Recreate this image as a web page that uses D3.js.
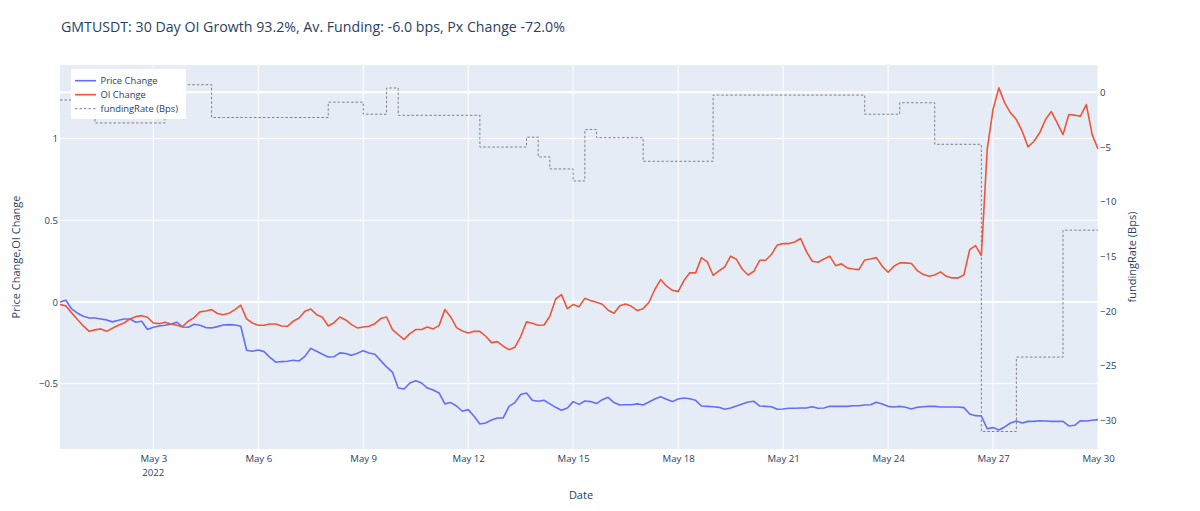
<!DOCTYPE html>
<html>
<head>
<meta charset="utf-8">
<script src="https://cdn.jsdelivr.net/npm/d3@7"></script>
<style>
body { margin: 0; background: #fff; }
text { font-family: "Open Sans", verdana, arial, sans-serif; fill: #2a3f5f; }
</style>
</head>
<body>
<div id="chart"></div>
<script>
var titleText = "GMTUSDT: 30 Day OI Growth 93.2%, Av. Funding: -6.0 bps, Px Change -72.0%";
var startTime = "2022-04-30T08:00:00Z";
var endTime = "2022-05-30T00:00:00Z";
var stepHours = 4;      // price / OI sampling
var fundingHours = 8;   // one funding value per 8h period

var priceChange = [
    0.000, 0.010, -0.043, -0.069, -0.088, -0.098, -0.098, -0.104, -0.110, -0.122,
    -0.112, -0.104, -0.104, -0.124, -0.118, -0.169, -0.155, -0.147, -0.143, -0.137,
    -0.124, -0.153, -0.155, -0.137, -0.143, -0.157, -0.159, -0.151, -0.141, -0.139,
    -0.141, -0.149, -0.296, -0.302, -0.294, -0.304, -0.339, -0.369, -0.365, -0.363,
    -0.357, -0.361, -0.333, -0.284, -0.302,
    -0.320, -0.337, -0.335, -0.312, -0.316, -0.327, -0.314, -0.298, -0.312, -0.320,
    -0.359, -0.398, -0.429, -0.527, -0.533, -0.496, -0.482, -0.496, -0.527, -0.539,
    -0.557, -0.624, -0.616, -0.637, -0.669, -0.659, -0.700, -0.747, -0.741, -0.722,
    -0.710, -0.710, -0.639, -0.616, -0.567, -0.557, -0.602, -0.608, -0.602, -0.624,
    -0.645, -0.663, -0.649, -0.610, -0.627,
    -0.606, -0.610, -0.622, -0.598, -0.584, -0.616, -0.631, -0.629, -0.629, -0.624,
    -0.631, -0.612, -0.594, -0.580, -0.596, -0.610, -0.594, -0.588, -0.592, -0.602,
    -0.637, -0.639, -0.641, -0.645, -0.657, -0.649, -0.637, -0.624, -0.612, -0.608,
    -0.637, -0.639, -0.641, -0.657, -0.655, -0.651, -0.651, -0.649, -0.649, -0.641,
    -0.651, -0.649, -0.639, -0.639,
    -0.639, -0.639, -0.635, -0.635, -0.631, -0.629, -0.614, -0.624, -0.639, -0.643,
    -0.639, -0.645, -0.655, -0.645, -0.641, -0.639, -0.639, -0.643, -0.643, -0.643,
    -0.643, -0.647, -0.686, -0.696, -0.698, -0.776, -0.769, -0.784, -0.765, -0.741,
    -0.729, -0.741, -0.731, -0.731, -0.727, -0.729, -0.731, -0.731, -0.731, -0.759,
    -0.755, -0.727, -0.729, -0.724, -0.720
];

var oiChange = [
    -0.016, -0.024, -0.067, -0.108, -0.147, -0.180, -0.171, -0.165, -0.180, -0.161,
    -0.143, -0.129, -0.104, -0.090, -0.084, -0.094, -0.129, -0.133, -0.124, -0.135,
    -0.143, -0.151, -0.118, -0.096, -0.061, -0.055, -0.047, -0.071, -0.078, -0.069,
    -0.047, -0.020, -0.104, -0.129, -0.143, -0.143, -0.135, -0.135, -0.147, -0.149,
    -0.118, -0.098, -0.057, -0.043, -0.078,
    -0.094, -0.147, -0.127, -0.092, -0.110, -0.139, -0.159, -0.153, -0.149, -0.133,
    -0.102, -0.092, -0.169, -0.200, -0.229, -0.194, -0.169, -0.169, -0.153, -0.165,
    -0.145, -0.047, -0.092, -0.157, -0.178, -0.190, -0.180, -0.180, -0.210, -0.249,
    -0.243, -0.271, -0.292, -0.278, -0.212, -0.122, -0.131, -0.143, -0.141, -0.088,
    0.018, 0.045, -0.041, -0.016, -0.029,
    0.022, 0.008, -0.002, -0.014, -0.051, -0.069, -0.024, -0.012, -0.027, -0.053,
    -0.041, -0.002, 0.076, 0.137, 0.098, 0.071, 0.063, 0.131, 0.178, 0.178,
    0.271, 0.245, 0.163, 0.190, 0.214, 0.280, 0.261, 0.200, 0.165, 0.188,
    0.255, 0.255, 0.290, 0.349, 0.357, 0.357, 0.367, 0.388, 0.308, 0.249,
    0.243, 0.263, 0.280, 0.222,
    0.233, 0.208, 0.202, 0.198, 0.257, 0.263, 0.271, 0.218, 0.182, 0.218,
    0.239, 0.239, 0.235, 0.192, 0.169, 0.157, 0.165, 0.184, 0.157, 0.147,
    0.147, 0.165, 0.320, 0.345, 0.284, 0.933, 1.178, 1.310, 1.218, 1.157,
    1.116, 1.045, 0.949, 0.982, 1.035, 1.116, 1.165, 1.096, 1.024, 1.147,
    1.143, 1.137, 1.208, 1.024, 0.937
];

var fundingRate = [
    -0.7, -0.7, -0.7,
    -2.8, -2.8, -2.8, -2.8, -2.8, -2.8,
    0.7, 0.7, 0.7, 0.7,
    -2.3, -2.3, -2.3, -2.3, -2.3, -2.3, -2.3, -2.3, -2.3, -2.3,
    -0.9, -0.9, -0.9,
    -2.0, -2.0,
    0.4,
    -2.1, -2.1, -2.1, -2.1, -2.1, -2.1, -2.1,
    -5.0, -5.0, -5.0, -5.0,
    -4.1,
    -5.9,
    -7.0, -7.0,
    -8.1,
    -3.4,
    -4.15, -4.15, -4.15, -4.15,
    -6.3, -6.3, -6.3, -6.3, -6.3, -6.3,
    -0.25, -0.25, -0.25, -0.25, -0.25, -0.25, -0.25, -0.25, -0.25, -0.25, -0.25, -0.25, -0.25,
    -2.0, -2.0, -2.0,
    -0.95, -0.95, -0.95,
    -4.75, -4.75, -4.75, -4.75,
    -31.0, -31.0, -31.0,
    -24.2, -24.2, -24.2, -24.2,
    -12.6, -12.6, -12.6
];

var xTickDates = ["2022-05-03", "2022-05-06", "2022-05-09", "2022-05-12", "2022-05-15",
    "2022-05-18", "2022-05-21", "2022-05-24", "2022-05-27", "2022-05-30"];
var xTickLabels = ["May 3", "May 6", "May 9", "May 12", "May 15",
    "May 18", "May 21", "May 24", "May 27", "May 30"];
var xYearLabel = "2022";
var yTicks = [-0.5, 0, 0.5, 1];
var y2Ticks = [0, -5, -10, -15, -20, -25, -30];
var seriesNames = ["Price Change", "OI Change", "fundingRate (Bps)"];
var seriesColors = ["#636efa", "#EF553B", "grey"];

function drawChart() {
    var width = 1200, height = 511;
    var plot = {left: 60, right: 1098, top: 65, bottom: 449};
    var t0 = new Date(startTime);
    var hour = 3600 * 1000;

    var svg = d3.select("#chart")
        .append("svg")
        .attr("width", width)
        .attr("height", height);

    var x = d3.scaleUtc()
        .domain([t0, new Date(endTime)])
        .range([plot.left, plot.right]);
    var y = d3.scaleLinear()
        .domain([-0.9, 1.45])
        .range([plot.bottom, plot.top]);
    var y2 = d3.scaleLinear()
        .domain([-32.6, 2.5])
        .range([plot.bottom, plot.top]);

    svg.append("rect")
        .attr("x", plot.left)
        .attr("y", plot.top)
        .attr("width", plot.right - plot.left)
        .attr("height", plot.bottom - plot.top)
        .attr("fill", "#E5ECF6");

    var tickDates = xTickDates.map(function(d) { return new Date(d + "T00:00:00Z"); });

    var grid = svg.append("g").attr("stroke", "#fff");
    grid.selectAll(".vgrid")
        .data(tickDates)
        .enter().append("line")
        .attr("x1", function(d) { return x(d); })
        .attr("x2", function(d) { return x(d); })
        .attr("y1", plot.top)
        .attr("y2", plot.bottom)
        .attr("stroke-width", 1);
    grid.selectAll(".hgrid")
        .data(yTicks)
        .enter().append("line")
        .attr("x1", plot.left)
        .attr("x2", plot.right)
        .attr("y1", function(d) { return y(d); })
        .attr("y2", function(d) { return y(d); })
        .attr("stroke-width", function(d) { return d === 0 ? 2 : 1; });
    // zero line of the funding axis
    grid.append("line")
        .attr("x1", plot.left)
        .attr("x2", plot.right)
        .attr("y1", y2(0))
        .attr("y2", y2(0))
        .attr("stroke-width", 2);

    var line = d3.line()
        .x(function(d) { return x(d.t); })
        .y(function(d) { return y(d.v); });
    var fundLine = d3.line()
        .curve(d3.curveStepAfter)
        .x(function(d) { return x(d.t); })
        .y(function(d) { return y2(d.v); });

    function toPoints(values, step) {
        return values.map(function(v, i) {
            return {t: new Date(t0.getTime() + i * step * hour), v: v};
        });
    }

    var pricePts = toPoints(priceChange, stepHours);
    var oiPts = toPoints(oiChange, stepHours);
    var fundPts = toPoints(fundingRate, fundingHours);
    fundPts.push({t: new Date(endTime), v: fundingRate[fundingRate.length - 1]});

    var lines = svg.append("g")
        .attr("fill", "none")
        .attr("stroke-linejoin", "round");
    lines.append("path")
        .datum(pricePts)
        .attr("d", line)
        .attr("stroke", seriesColors[0])
        .attr("stroke-width", 1.6);
    lines.append("path")
        .datum(oiPts)
        .attr("d", line)
        .attr("stroke", seriesColors[1])
        .attr("stroke-width", 1.6);
    lines.append("path")
        .datum(fundPts)
        .attr("d", fundLine)
        .attr("stroke", seriesColors[2])
        .attr("stroke-width", 1)
        .attr("stroke-dasharray", "2.5,2");

    var fmt = d3.format("~g");

    var xAxis = svg.append("g")
        .attr("transform", "translate(0," + plot.bottom + ")")
        .call(d3.axisBottom(x)
            .tickValues(tickDates)
            .tickSize(0)
            .tickPadding(6)
            .tickFormat(function(d, i) { return xTickLabels[i]; }));
    xAxis.append("text")
        .attr("x", x(tickDates[0]))
        .attr("y", 27)
        .attr("text-anchor", "middle")
        .text(xYearLabel);

    var yAxis = svg.append("g")
        .attr("transform", "translate(" + plot.left + ",0)")
        .call(d3.axisLeft(y)
            .tickValues(yTicks)
            .tickSize(0)
            .tickPadding(2)
            .tickFormat(fmt));

    var y2Axis = svg.append("g")
        .attr("transform", "translate(" + plot.right + ",0)")
        .call(d3.axisRight(y2)
            .tickValues(y2Ticks)
            .tickSize(0)
            .tickPadding(2)
            .tickFormat(fmt));

    [xAxis, yAxis, y2Axis].forEach(function(a) {
        a.select(".domain").remove();
        a.selectAll("text")
            .attr("fill", "#2a3f5f")
            .style("font-family", "\"Open Sans\", verdana, arial, sans-serif")
            .style("font-size", "9.6px");
    });

    svg.append("text")
        .attr("x", 61)
        .attr("y", 32)
        .style("font-size", "14.2px")
        .text(titleText);

    svg.append("text")
        .attr("x", (plot.left + plot.right) / 2 + 2)
        .attr("y", 499)
        .attr("text-anchor", "middle")
        .style("font-size", "11px")
        .text("Date");

    svg.append("text")
        .attr("transform", "translate(20," + (plot.top + plot.bottom) / 2 + ") rotate(-90)")
        .attr("text-anchor", "middle")
        .style("font-size", "11px")
        .text("Price Change,OI Change");

    svg.append("text")
        .attr("transform", "translate(1136," + (plot.top + plot.bottom) / 2 + ") rotate(-90)")
        .attr("text-anchor", "middle")
        .style("font-size", "11px")
        .text(seriesNames[2]);

    var legend = svg.append("g")
        .attr("transform", "translate(71,69)");
    legend.append("rect")
        .attr("width", 115)
        .attr("height", 50)
        .attr("fill", "#fff");
    var item = legend.selectAll(".item")
        .data(seriesNames)
        .enter().append("g")
        .attr("transform", function(d, i) { return "translate(0," + (11.7 + i * 14) + ")"; });
    item.append("line")
        .attr("x1", 4)
        .attr("x2", 25)
        .attr("stroke", function(d, i) { return seriesColors[i]; })
        .attr("stroke-width", function(d, i) { return i < 2 ? 1.6 : 1; })
        .attr("stroke-dasharray", function(d, i) { return i < 2 ? null : "2.5,2"; });
    item.append("text")
        .attr("x", 29.5)
        .attr("dy", "0.35em")
        .style("font-size", "9.4px")
        .text(function(d) { return d; });
}

drawChart();
</script>
</body>
</html>
